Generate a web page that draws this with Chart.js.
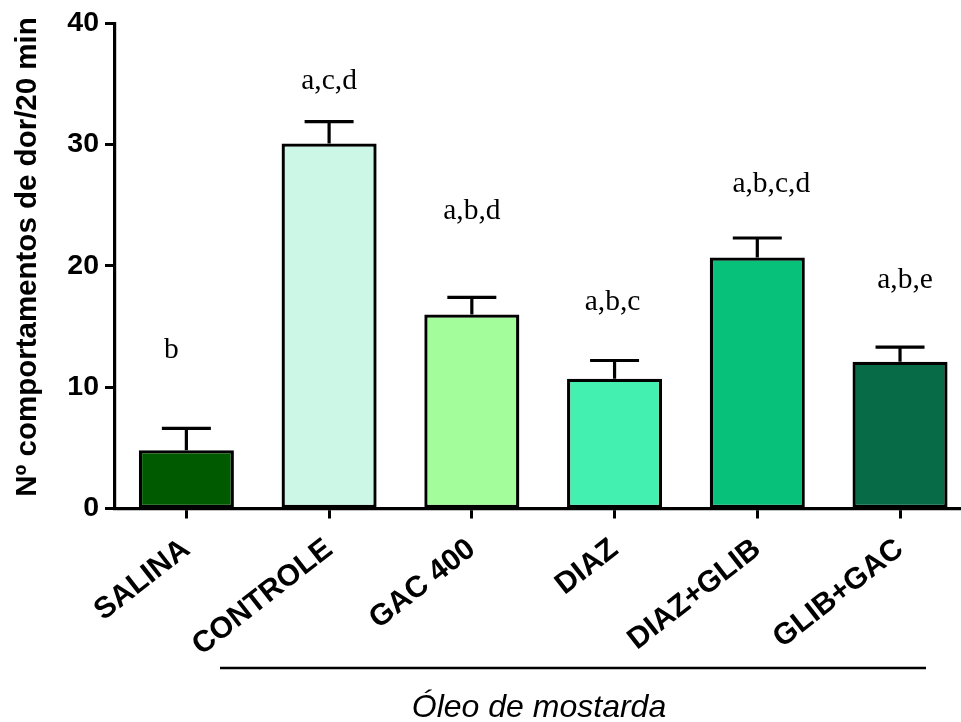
<!DOCTYPE html>
<html lang="pt">
<head>
<meta charset="utf-8">
<title>Comportamentos de dor – Óleo de mostarda</title>
<script src="https://cdn.jsdelivr.net/npm/chart.js@4/dist/chart.umd.min.js"></script>
<style>
  html, body { margin: 0; padding: 0; background: #fff; overflow: hidden; }
  canvas { display: block; }
</style>
</head>
<body>
<canvas id="chart" width="975" height="722"></canvas>
<script>
// Groups, means and standard errors
const groups = ['SALINA', 'CONTROLE', 'GAC 400', 'DIAZ', 'DIAZ+GLIB', 'GLIB+GAC'];
const means = [4.8, 30.1, 16.0, 10.7, 20.7, 12.1];
const sem = [1.8, 1.8, 1.4, 1.5, 1.6, 1.2];

// Significance letters and the height (axis units) of their baseline
const sigLetters = ['b', 'a,c,d', 'a,b,d', 'a,b,c', 'a,b,c,d', 'a,b,e'];
const sigHeights = [12.4, 34.6, 23.9, 16.4, 26.1, 18.2];

// Y axis ticks
const yTicks = [0, 10, 20, 30, 40];

const yTitle = 'Nº comportamentos de dor/20 min';
const groupCaption = 'Óleo de mostarda';

const barColors = ['#005A00', '#CCF7E6', '#A3FD9A', '#44F0B0', '#07C07A', '#066B46'];
const letterNudge = [-15, 0, 0, -2, 14, 5];

const errorBars = {
  id: 'errorBars',
  afterDatasetsDraw(chart) {
    const ctx = chart.ctx;
    const y = chart.scales.y;
    const meta = chart.getDatasetMeta(0);
    ctx.save();
    ctx.strokeStyle = '#000';
    ctx.lineWidth = 3.2;
    ctx.lineCap = 'butt';
    meta.data.forEach((bar, i) => {
      const top = y.getPixelForValue(means[i] + sem[i]);
      const base = y.getPixelForValue(means[i]);
      ctx.beginPath();
      ctx.moveTo(bar.x, base);
      ctx.lineTo(bar.x, top);
      ctx.moveTo(bar.x - 24.5, top);
      ctx.lineTo(bar.x + 24.5, top);
      ctx.stroke();
    });
    ctx.restore();
  }
};

const annotations = {
  id: 'annotations',
  afterDraw(chart) {
    const ctx = chart.ctx;
    const y = chart.scales.y;
    const meta = chart.getDatasetMeta(0);
    ctx.save();
    ctx.fillStyle = '#000';
    ctx.font = '29.5px "Liberation Serif", "Times New Roman", serif';
    ctx.textAlign = 'center';
    ctx.textBaseline = 'alphabetic';
    meta.data.forEach((bar, i) => {
      ctx.fillText(sigLetters[i], bar.x + letterNudge[i], y.getPixelForValue(sigHeights[i]));
    });

    // vertical axis title
    ctx.save();
    ctx.translate(28, 257);
    ctx.rotate(-Math.PI / 2);
    ctx.textBaseline = 'middle';
    ctx.font = 'bold 29.5px "Liberation Sans", Arial, sans-serif';
    ctx.fillText(yTitle, 0, 0);
    ctx.restore();

    // bracket line under the oil-treated groups and its caption
    ctx.strokeStyle = '#000';
    ctx.lineWidth = 2.5;
    ctx.beginPath();
    ctx.moveTo(220, 668);
    ctx.lineTo(926, 668);
    ctx.stroke();
    ctx.font = 'italic 32px "Liberation Sans", Arial, sans-serif';
    ctx.fillText(groupCaption, 539, 717);
    ctx.restore();
  }
};

new Chart(document.getElementById('chart'), {
  type: 'bar',
  data: {
    labels: groups,
    datasets: [{
      data: means,
      backgroundColor: barColors,
      borderColor: '#000',
      borderWidth: 3.3,
      borderSkipped: false,
      categoryPercentage: 1,
      barPercentage: 0.666
    }]
  },
  options: {
    responsive: false,
    animation: false,
    devicePixelRatio: 1,
    layout: { padding: { top: 23.3, right: 3.6, left: 0, bottom: 0 } },
    plugins: {
      legend: { display: false },
      tooltip: { enabled: false }
    },
    scales: {
      x: {
        offset: true,
        afterFit(scale) { scale.height = 213.5; },
        border: { display: true, color: '#000', width: 3.2 },
        grid: {
          offset: false,
          drawOnChartArea: false,
          drawTicks: true,
          tickLength: 10,
          tickWidth: 3,
          tickColor: '#000',
          color: '#000'
        },
        ticks: {
          color: '#000',
          minRotation: 38,
          maxRotation: 38,
          padding: 13,
          autoSkip: false,
          font: { family: '"Liberation Sans", Arial, sans-serif', size: 30, weight: 'bold' }
        }
      },
      y: {
        min: 0,
        max: 40,
        afterFit(scale) { scale.width = 115; },
        afterBuildTicks(scale) { scale.ticks = yTicks.map(v => ({ value: v })); },
        border: { display: true, color: '#000', width: 3.2 },
        grid: {
          drawOnChartArea: false,
          drawTicks: true,
          tickLength: 10,
          tickWidth: 3,
          tickColor: '#000',
          color: '#000'
        },
        ticks: {
          color: '#000',
          padding: 6,
          font: { family: '"Liberation Sans", Arial, sans-serif', size: 28.5, weight: 'bold' }
        }
      }
    }
  },
  plugins: [errorBars, annotations]
});
</script>
</body>
</html>
